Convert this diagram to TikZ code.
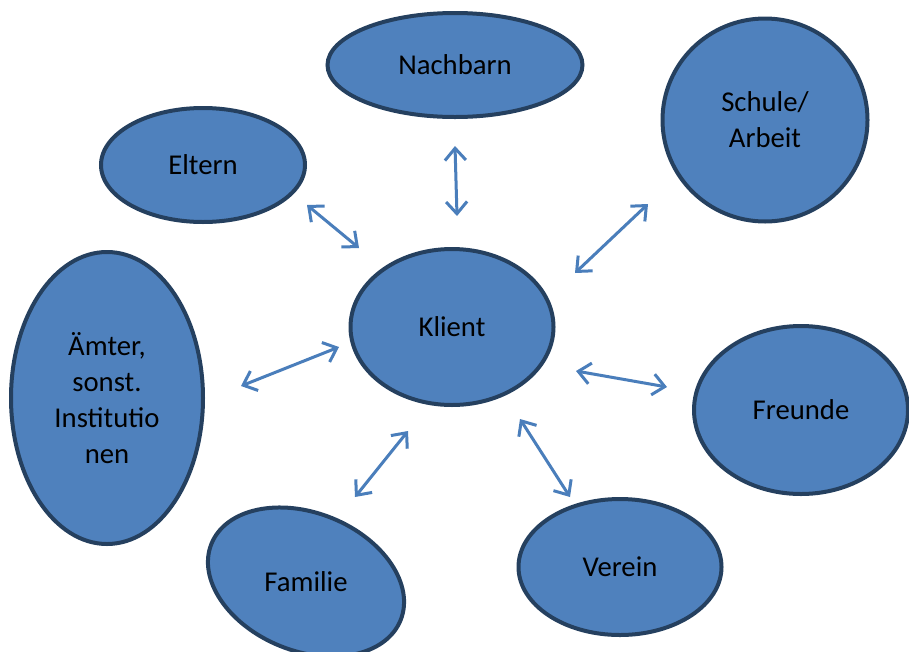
\documentclass[tikz,border=0pt]{standalone}
\usepackage{fontspec}
\setmainfont{Carlito}
\usetikzlibrary{shapes.geometric,arrows.meta}
\definecolor{bubblefill}{HTML}{4F81BD}
\definecolor{bubbleline}{HTML}{25405F}
\definecolor{arrowblue}{HTML}{4A7EBB}
\tikzset{
  bubble/.style={ellipse, draw=bubbleline, fill=bubblefill, line width=4pt,
    inner sep=0pt, align=center, text=black,
    font=\fontsize{28.7}{36}\selectfont},
  link/.style={draw=arrowblue, line width=3pt,
    {Straight Barb[length=12pt,width=21pt]}-{Straight Barb[length=12pt,width=21pt]}}
}
\begin{document}
\begin{tikzpicture}[x=1pt,y=-1pt]
\useasboundingbox (0,0) rectangle (909,651);
\node[bubble, minimum width=255pt, minimum height=104pt] (nachbarn) at (455,65) {Nachbarn};
\node[bubble, minimum width=205pt, minimum height=203pt] (schule) at (765,120) {Schule/\\Arbeit};
\node[bubble, minimum width=204pt, minimum height=114pt] (eltern) at (203,165) {Eltern};
\node[bubble, minimum width=203pt, minimum height=156pt] (klient) at (452,327) {Klient};
\node[bubble, minimum width=192pt, minimum height=292pt] (aemter) at (107,398) {Ämter,\\sonst.\\Institutio\\nen};
\node[bubble, minimum width=214pt, minimum height=168pt] (freunde) at (801,410) {Freunde};
\node[bubble, minimum width=203pt, minimum height=136pt] (verein) at (620,567) {Verein};
\node[bubble, minimum width=204pt, minimum height=138pt, rotate=-22] (familie) at (306,582) {\rotatebox{22}{Familie}};

\coordinate (a1) at (455,146); \coordinate (b1) at (457,216);
\coordinate (a2) at (307,205); \coordinate (b2) at (359,248);
\coordinate (a3) at (648,204); \coordinate (b3) at (575,273);
\coordinate (a4) at (241,386); \coordinate (b4) at (339,347);
\coordinate (a5) at (576,371); \coordinate (b5) at (667,387);
\coordinate (a6) at (520,419); \coordinate (b6) at (570,497);
\coordinate (a7) at (408,431); \coordinate (b7) at (355,497);

\draw[link] (a1) -- (b1);
\draw[link] (a2) -- (b2);
\draw[link] (a3) -- (b3);
\draw[link] (a4) -- (b4);
\draw[link] (a5) -- (b5);
\draw[link] (a6) -- (b6);
\draw[link] (a7) -- (b7);
\end{tikzpicture}
\end{document}
